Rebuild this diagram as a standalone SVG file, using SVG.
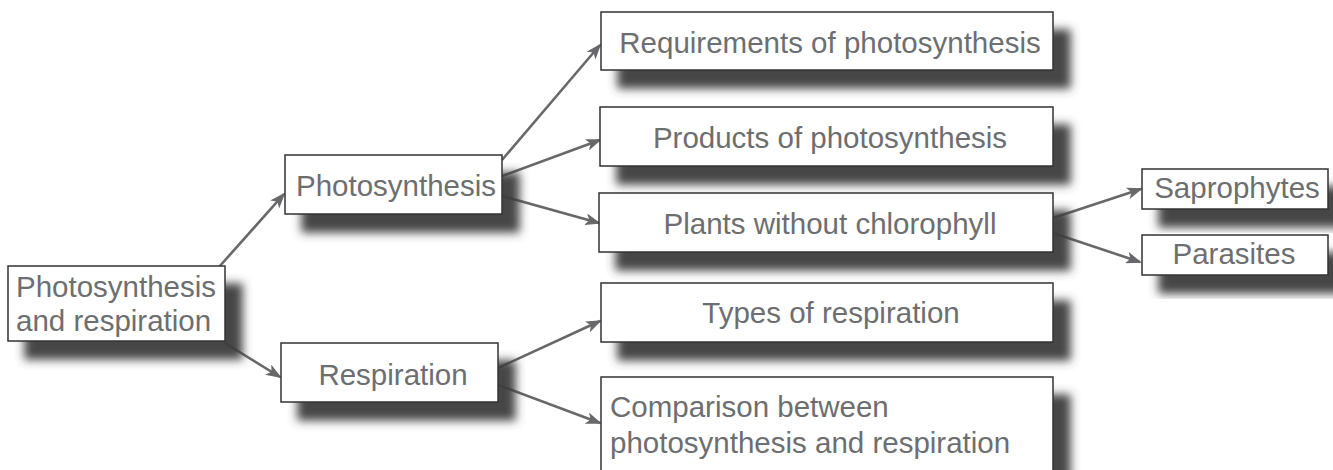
<svg xmlns="http://www.w3.org/2000/svg" width="1333" height="470" viewBox="0 0 1333 470">
<style>
.box{fill:#fff;stroke:#333;stroke-width:1.5}
.lbl{font-family:"Liberation Sans",Arial,Helvetica,sans-serif;font-size:29.5px;fill:#6d6e70}
.mid{text-anchor:middle}
.edge{stroke:#68686a;stroke-width:2.6;fill:none;marker-end:url(#arr)}
</style>
<defs>
<filter id="sh" x="-20%" y="-40%" width="150%" height="200%">
<feDropShadow dx="17" dy="18" stdDeviation="5" flood-color="#3c3c3c" flood-opacity="0.95"/>
</filter>
<marker id="arr" markerWidth="16" markerHeight="12" refX="14" refY="6" orient="auto" markerUnits="userSpaceOnUse">
<path d="M0,0 L16,6 L0,12 L4,6 Z" fill="#68686a"/>
</marker>
</defs>
<rect width="1333" height="470" fill="#fff"/>
<g id="connectors">
<line class="edge" x1="219" y1="267" x2="284" y2="194"/>
<line class="edge" x1="225" y1="343" x2="280" y2="377"/>
<line class="edge" x1="502" y1="160" x2="600" y2="45"/>
<line class="edge" x1="502" y1="176" x2="600" y2="140"/>
<line class="edge" x1="502" y1="196" x2="599" y2="223"/>
<line class="edge" x1="1053" y1="218" x2="1141" y2="189"/>
<line class="edge" x1="1053" y1="233" x2="1140" y2="262"/>
<line class="edge" x1="498" y1="368" x2="600" y2="321"/>
<line class="edge" x1="498" y1="385" x2="600" y2="423"/>
</g>
<g id="n-root">
<rect class="box" x="8" y="266" width="217" height="75" filter="url(#sh)"/>
<text class="lbl" x="16" y="297">Photosynthesis</text>
<text class="lbl" x="16" y="331">and respiration</text>
</g>
<g id="n-photo">
<rect class="box" x="285" y="155" width="217" height="59" filter="url(#sh)"/>
<text class="lbl mid" x="396" y="196">Photosynthesis</text>
</g>
<g id="n-resp">
<rect class="box" x="281" y="343" width="217" height="59" filter="url(#sh)"/>
<text class="lbl mid" x="393" y="385">Respiration</text>
</g>
<g id="n-req">
<rect class="box" x="601" y="12" width="452" height="58" filter="url(#sh)"/>
<text class="lbl mid" x="830" y="53">Requirements of photosynthesis</text>
</g>
<g id="n-prod">
<rect class="box" x="600" y="107" width="453" height="59" filter="url(#sh)"/>
<text class="lbl mid" x="830" y="148">Products of photosynthesis</text>
</g>
<g id="n-plants">
<rect class="box" x="599" y="193" width="454" height="59" filter="url(#sh)"/>
<text class="lbl mid" x="830" y="234">Plants without chlorophyll</text>
</g>
<g id="n-sap">
<rect class="box" x="1142" y="169" width="186" height="40" filter="url(#sh)"/>
<text class="lbl mid" x="1237" y="198">Saprophytes</text>
</g>
<g id="n-par">
<rect class="box" x="1142" y="235" width="186" height="40" filter="url(#sh)"/>
<text class="lbl mid" x="1234" y="264">Parasites</text>
</g>
<g id="n-types">
<rect class="box" x="601" y="283" width="452" height="59" filter="url(#sh)"/>
<text class="lbl mid" x="831" y="323">Types of respiration</text>
</g>
<g id="n-comp">
<rect class="box" x="601" y="377" width="452" height="110" filter="url(#sh)"/>
<text class="lbl" x="610" y="417">Comparison between</text>
<text class="lbl" x="610" y="453">photosynthesis and respiration</text>
</g>
</svg>
